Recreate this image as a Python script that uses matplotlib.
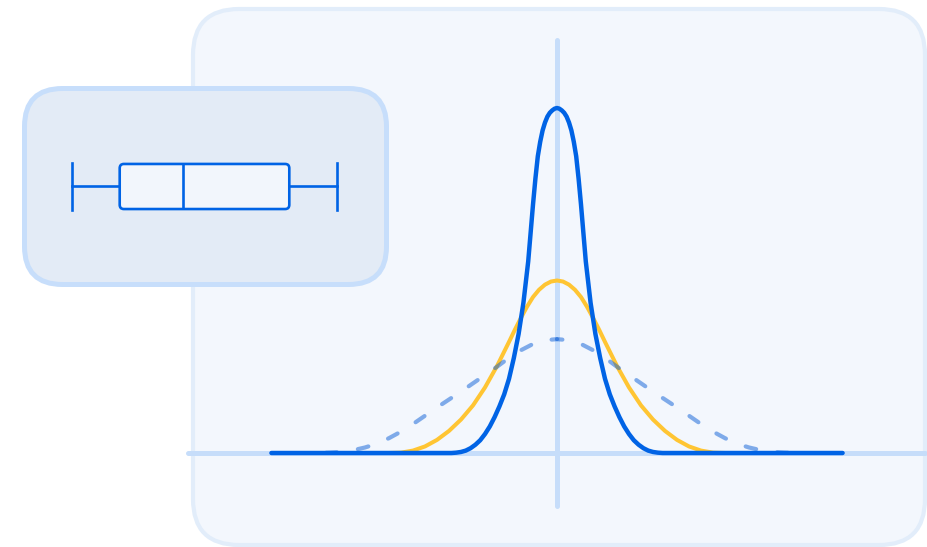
import matplotlib as mpl
mpl.use('Agg')

import matplotlib.pyplot as plt
from matplotlib.patches import FancyBboxPatch
import numpy as np

# curve samples (x in sd units, y relative to tallest peak)
blue_x = [-5.95, -2.2, -2.1, -2.0, -1.9, -1.8, -1.7, -1.6, -1.5, -1.4, -1.3, -1.2,
          -1.1, -1.0, -0.9, -0.8, -0.7, -0.6, -0.5, -0.45, -0.4, -0.35, -0.3, -0.25,
          -0.2, -0.15, -0.1, -0.05, 0.0, 0.05, 0.1, 0.15, 0.2, 0.25, 0.3, 0.35, 0.4,
          0.45, 0.5, 0.6, 0.7, 0.8, 0.9, 1.0, 1.1, 1.2, 1.3, 1.4, 1.5, 1.6, 1.7, 1.8,
          1.9, 2.0, 2.1, 2.2, 5.95]
blue_y = [0.0, 0.0, 0.001, 0.003, 0.007, 0.014, 0.024, 0.037, 0.055, 0.077, 0.104, 0.135,
          0.170, 0.215, 0.275, 0.345, 0.435, 0.555, 0.720, 0.795, 0.860, 0.902, 0.935, 0.958,
          0.975, 0.986, 0.993, 0.998, 1.000, 0.998, 0.993, 0.986, 0.975, 0.958, 0.935, 0.902, 0.860,
          0.795, 0.720, 0.555, 0.435, 0.345, 0.275, 0.215, 0.170, 0.135, 0.104, 0.077, 0.055,
          0.037, 0.024, 0.014, 0.007, 0.003, 0.001, 0.0, 0.0]

yellow_x = [-3.5, -3.25, -3.0, -2.75, -2.5, -2.25, -2.0, -1.75, -1.5, -1.25, -1.0, -0.875,
            -0.75, -0.625, -0.5, -0.375, -0.25, -0.125, 0.0, 0.125, 0.25, 0.375, 0.5, 0.625,
            0.75, 0.875, 1.0, 1.25, 1.5, 1.75, 2.0, 2.25, 2.5, 2.75, 3.0, 3.25, 3.5]
yellow_y = [0.0, 0.001, 0.007, 0.019, 0.038, 0.064, 0.097, 0.138, 0.190, 0.252, 0.322, 0.358,
            0.392, 0.424, 0.452, 0.473, 0.488, 0.497, 0.500, 0.497, 0.488, 0.473, 0.452, 0.424,
            0.392, 0.358, 0.322, 0.252, 0.190, 0.138, 0.097, 0.064, 0.038, 0.019, 0.007, 0.001,
            0.0]

dashed_x = [-5.0, -4.75, -4.5, -4.25, -4.0, -3.75, -3.5, -3.25, -3.0, -2.75, -2.5, -2.25,
            -2.0, -1.75, -1.5, -1.25, -1.0, -0.75, -0.5, -0.25, 0.0, 0.25, 0.5, 0.75, 1.0,
            1.25, 1.5, 1.75, 2.0, 2.25, 2.5, 2.75, 3.0, 3.25, 3.5, 3.75, 4.0, 4.25, 4.5,
            4.75, 5.0]
dashed_y = [0.0, 0.001, 0.003, 0.008, 0.016, 0.027, 0.043, 0.062, 0.084, 0.108, 0.132, 0.155,
            0.178, 0.202, 0.226, 0.250, 0.276, 0.298, 0.316, 0.327, 0.330, 0.327, 0.316, 0.298,
            0.276, 0.250, 0.226, 0.202, 0.178, 0.155, 0.132, 0.108, 0.084, 0.062, 0.043, 0.027,
            0.016, 0.008, 0.003, 0.001, 0.0]

# box plot summary
box_stats = {'whislo': 0, 'q1': 18, 'med': 42, 'q3': 82, 'whishi': 100}

BLUE = '#0063e5'
YELLOW = '#ffc533'
AXIS = '#c6ddfa'

fig = plt.figure(figsize=(9.28, 5.47), dpi=100)
fig.patch.set_facecolor('white')

# background layer in pixel units
bg = fig.add_axes([0, 0, 1, 1])
bg.set_xlim(0, 928)
bg.set_ylim(547, 0)
bg.axis('off')
bg.add_patch(FancyBboxPatch((193, 9), 732, 536, boxstyle='round,pad=0,rounding_size=46',
                            facecolor='#f3f7fd', edgecolor='#e2edfa', linewidth=3.0))
bg.add_patch(FancyBboxPatch((24.5, 88.5), 362, 196, boxstyle='round,pad=0,rounding_size=38',
                            facecolor='#e3ebf6', edgecolor='#c7defb', linewidth=3.6, zorder=5))

# distribution chart
ax = fig.add_axes([0, 0, 1, 1])
ax.patch.set_alpha(0)
ax.set_xlim(-557 / 48, 371 / 48)
ax.set_ylim(-94 / 345, 453 / 345)
ax.axis('off')

ax.axhline(0, xmin=188 / 928, xmax=925 / 928, color=AXIS, lw=3.6, solid_capstyle='round', zorder=1)
ax.axvline(0, ymin=41 / 547, ymax=507 / 547, color=AXIS, lw=3.6, solid_capstyle='round', zorder=1)

ax.plot(yellow_x, yellow_y, color=YELLOW, lw=2.9, solid_capstyle='round',
        solid_joinstyle='round', zorder=2)

# dashed curve drawn in two halves from the peak outward so the dash sits on the centre
mid = dashed_x.index(0.0)
for xs, ys in [(dashed_x[mid:], dashed_y[mid:]), (dashed_x[:mid + 1][::-1], dashed_y[:mid + 1][::-1])]:
    ax.plot(xs, ys, color='#0b5ed7', alpha=0.5, lw=3.0, dash_capstyle='round',
            linestyle=(1.3, (2.6, 5.1)), zorder=3)

ax.plot(blue_x, blue_y, color=BLUE, lw=3.2, solid_capstyle='round', solid_joinstyle='round', zorder=4)

# box plot inset
bx = fig.add_axes([24.5 / 928, (547 - 284.5) / 547, 362 / 928, 196 / 547])
bx.patch.set_alpha(0)
bx.set_zorder(6)
bx.set_xlim((24.5 - 72) / 2.65, (386.5 - 72) / 2.65)
bx.set_ylim(0, 2)
bx.axis('off')
parts = bx.bxp([box_stats], positions=[1], widths=0.46, capwidths=0.47, orientation='horizontal',
               patch_artist=True, showfliers=False, manage_ticks=False,
               boxprops=dict(facecolor='#f2f6fc', edgecolor=BLUE, linewidth=1.9),
               whiskerprops=dict(color=BLUE, linewidth=1.9),
               capprops=dict(color=BLUE, linewidth=1.9),
               medianprops=dict(color=BLUE, linewidth=1.9, zorder=4))

# swap the square box for one with slightly rounded corners
parts['boxes'][0].set_visible(False)
bx.add_patch(FancyBboxPatch((box_stats['q1'], 1 - 0.23), box_stats['q3'] - box_stats['q1'], 0.46,
                            boxstyle='round,pad=0,rounding_size=1.6', mutation_aspect=2.65 / 98,
                            facecolor='#f2f6fc', edgecolor=BLUE, linewidth=1.9, zorder=3))

fig.savefig('out.png', dpi=100)
